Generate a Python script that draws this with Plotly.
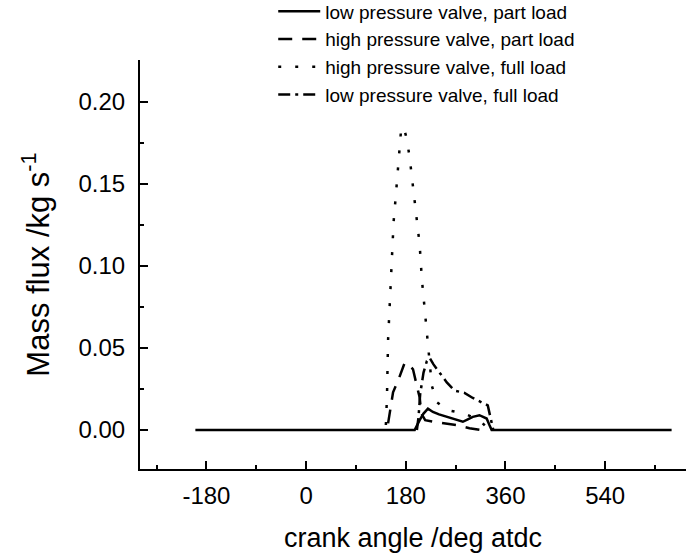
import plotly.graph_objects as go

# ---- data (crank angle in deg atdc, mass flux in kg/s) ----
lp_part_x = [-200, 196, 205, 212, 220, 229, 240, 254, 272, 283, 292, 301, 313, 326, 331, 335, 660]
lp_part_y = [0.0, 0.0, 0.006, 0.010, 0.013, 0.011, 0.0095, 0.008, 0.006, 0.005, 0.0065, 0.008, 0.009, 0.007, 0.003, 0.0, 0.0]

hp_part_x = [148, 152, 157, 166, 172, 178, 185, 193, 202, 205, 208, 215, 230, 255, 272, 295, 315]
hp_part_y = [0.004, 0.012, 0.023, 0.030, 0.036, 0.041, 0.040, 0.037, 0.024, 0.020, 0.010, 0.006, 0.005, 0.004, 0.003, 0.001, 0.0]

hp_full_x = [144, 146, 148, 151, 154, 158, 162, 166, 171, 176, 182, 187, 191, 194, 198, 202, 205,
             209, 215, 220, 227, 236, 256, 286, 313, 331]
hp_full_y = [0.003, 0.020, 0.055, 0.075, 0.096, 0.127, 0.143, 0.159, 0.181, 0.185, 0.177, 0.166, 0.155,
             0.145, 0.134, 0.123, 0.113, 0.092, 0.070, 0.049, 0.027, 0.017, 0.012, 0.010, 0.006, 0.0]

lp_full_x = [200, 203, 206, 212, 218, 223, 230, 241, 254, 268, 286, 301, 315, 328, 334, 338]
lp_full_y = [0.0, 0.008, 0.022, 0.035, 0.042, 0.044, 0.040, 0.035, 0.029, 0.024, 0.0226, 0.0195, 0.017, 0.015, 0.006, 0.0]

series_names = ["low pressure valve, part load", "high pressure valve, part load",
                "high pressure valve, full load", "low pressure valve, full load"]

x_ticks = [-180, 0, 180, 360, 540]
y_ticks = [0.00, 0.05, 0.10, 0.15, 0.20]

FONT = "Arial, Liberation Sans, sans-serif"

fig = go.Figure()
styles = [
    ("solid", lp_part_x, lp_part_y),
    ("14px,10px", hp_part_x, hp_part_y),
    ("3px,14px", hp_full_x, hp_full_y),
    ("12px,5px,3px,5px", lp_full_x, lp_full_y),
]
for name, (dash, xs, ys) in zip(series_names, styles):
    fig.add_trace(go.Scatter(x=xs, y=ys, mode="lines", name=name,
                             line=dict(color="black", width=2.5, dash=dash)))

axis_common = dict(
    showline=True, linecolor="black", linewidth=2, mirror=False,
    ticks="inside", ticklen=8, tickwidth=2, tickcolor="black",
    showgrid=False, zeroline=False,
    tickfont=dict(family=FONT, size=24, color="black"),
)

fig.update_xaxes(
    range=[-300, 686], tickvals=x_ticks, ticktext=[str(v) for v in x_ticks],
    minor=dict(ticks="inside", ticklen=4, tickwidth=2, tickcolor="black", dtick=90, tick0=-270),
    ticklabelstandoff=4,
    title=dict(text="crank angle /deg atdc", font=dict(family=FONT, size=27, color="black"), standoff=20),
    **axis_common,
)
fig.update_yaxes(
    range=[-0.0238, 0.2256], tickvals=y_ticks, ticktext=[f"{v:.2f}" for v in y_ticks],
    minor=dict(ticks="inside", ticklen=4, tickwidth=2, tickcolor="black", dtick=0.025, tick0=0),
    ticklabelstandoff=8,
    title=dict(text="Mass flux /kg s<sup>-1</sup>", font=dict(family=FONT, size=31, color="black"), standoff=20),
    **axis_common,
)

fig.update_layout(
    width=688, height=557,
    margin=dict(l=140, r=2, t=60, b=88, autoexpand=False),
    plot_bgcolor="white", paper_bgcolor="white",
    showlegend=True,
    legend=dict(x=0.244, y=1.165, xanchor="left", yanchor="top",
                bgcolor="rgba(0,0,0,0)", borderwidth=0,
                font=dict(family=FONT, size=19, color="black"),
                itemwidth=42, tracegroupgap=0),
)

fig.write_html("out.html")
